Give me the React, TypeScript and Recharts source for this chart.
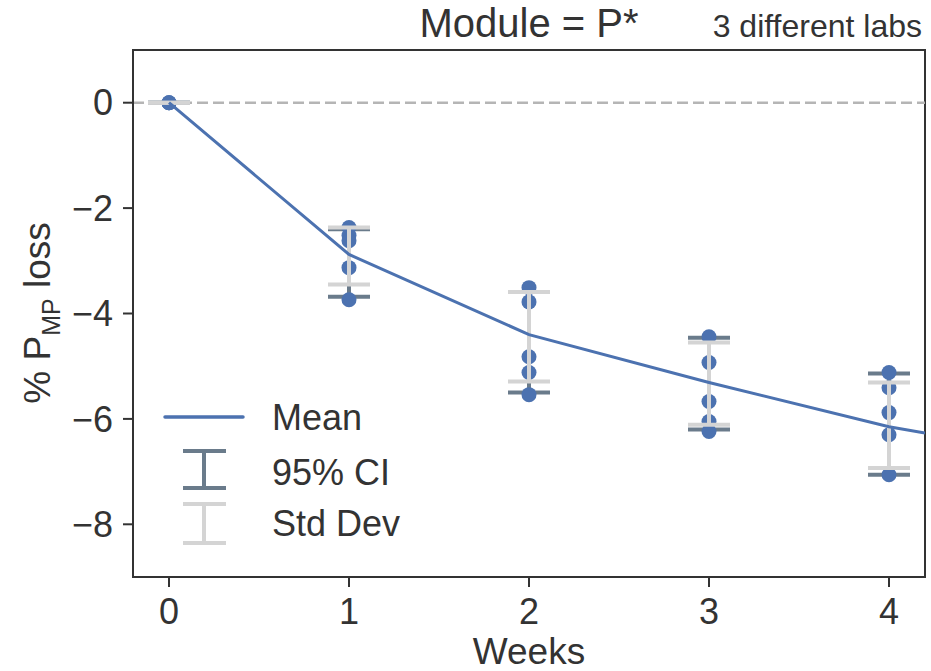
import React from 'react';
import {
  ComposedChart,
  Line,
  Scatter,
  XAxis,
  YAxis,
  ErrorBar,
  ReferenceLine,
  ReferenceArea,
  Legend,
  Label,
} from 'recharts';

// weeks where labs measured
const weeks = [0, 1, 2, 3, 4];

// individual lab measurements per week (% P_MP loss)
const obsByWeek = [
  [0, 0, 0],
  [-2.37, -2.52, -2.62, -3.13, -3.74],
  [-3.51, -3.78, -4.82, -5.12, -5.54],
  [-4.44, -4.93, -5.67, -6.05, -6.24],
  [-5.12, -5.41, -5.88, -6.3, -7.06],
];

// mean curve (runs to the right edge of the plot)
const meanX = [0, 1, 2, 3, 4, 4.2];
const meanY = [0, -2.88, -4.4, -5.31, -6.15, -6.27];

// 95% CI and std dev bounds per week
const ciLow = [0, -3.68, -5.5, -6.2, -7.06];
const ciHigh = [0, -2.4, -3.59, -4.46, -5.14];
const sdLow = [0, -3.45, -5.29, -6.11, -6.93];
const sdHigh = [0, -2.37, -3.59, -4.55, -5.31];

const xTicks = [0, 1, 2, 3, 4];
const yTicks = [0, -2, -4, -6, -8];

const FONT = '"Liberation Sans", Arial, Helvetica, sans-serif';
const BLUE = '#4C72B0';
const CI_COLOR = '#6a7b8b';
const SD_COLOR = '#d4d4d4';
const AXIS = '#333333';

const meanData = meanX.map((w, i) => ({ week: w, mean: meanY[i] }));

const barData = weeks.map((w, i) => {
  const c = meanY[i];
  return {
    week: w,
    center: c,
    ci: [c - ciLow[i], ciHigh[i] - c],
    sd: [c - sdLow[i], sdHigh[i] - c],
  };
});

const pointData = weeks.flatMap((w, i) => obsByWeek[i].map((v) => ({ week: w, value: v })));

const fmtY = (v: number) => (v < 0 ? `\u2212${Math.abs(v)}` : `${v}`);

const Dot = (props: any) => <circle cx={props.cx} cy={props.cy} r={7.5} fill={BLUE} />;
const NoShape = () => <g />;

const YLabel = () => (
  <text
    x={50}
    y={313}
    transform="rotate(-90, 50, 313)"
    textAnchor="middle"
    fontFamily={FONT}
    fontSize={37}
    fill={AXIS}
  >
    % P
    <tspan dy={10} fontSize={25}>MP</tspan>
    <tspan dy={-10}> loss</tspan>
  </text>
);

const XLabel = () => (
  <text x={529} y={664} textAnchor="middle" fontFamily={FONT} fontSize={37} fill={AXIS}>
    Weeks
  </text>
);

const LegendBox = () => (
  <svg width={290} height={165} style={{ display: 'block' }}>
    <line x1={15} x2={93} y1={27} y2={27} stroke={BLUE} strokeWidth={3.5} strokeLinecap="round" />
    <text x={122} y={27} dominantBaseline="central" fontFamily={FONT} fontSize={36} fill={AXIS}>
      Mean
    </text>
    <g stroke={CI_COLOR} strokeWidth={4}>
      <line x1={54} x2={54} y1={61} y2={98} />
      <line x1={33} x2={76} y1={61} y2={61} />
      <line x1={33} x2={76} y1={98} y2={98} />
    </g>
    <text x={122} y={82} dominantBaseline="central" fontFamily={FONT} fontSize={36} fill={AXIS}>
      95% CI
    </text>
    <g stroke={SD_COLOR} strokeWidth={4}>
      <line x1={54} x2={54} y1={114} y2={153} />
      <line x1={33} x2={76} y1={114} y2={114} />
      <line x1={33} x2={76} y1={153} y2={153} />
    </g>
    <text x={122} y={133} dominantBaseline="central" fontFamily={FONT} fontSize={36} fill={AXIS}>
      Std Dev
    </text>
  </svg>
);

export default function App() {
  return (
    <div style={{ position: 'absolute', left: 0, top: 0, width: 931, height: 671, background: '#fff', fontFamily: FONT }}>
      <div
        style={{
          position: 'absolute',
          left: 0,
          width: 1058,
          top: 3,
          fontSize: 40,
          lineHeight: '40px',
          textAlign: 'center',
          color: AXIS,
          whiteSpace: 'nowrap',
        }}
      >
        Module = P*
      </div>
      <div
        style={{
          position: 'absolute',
          right: 9,
          top: 10,
          fontSize: 32,
          lineHeight: '32px',
          color: AXIS,
          whiteSpace: 'nowrap',
        }}
      >
        3 different labs
      </div>
      <ComposedChart
        width={931}
        height={671}
        margin={{ top: 50, right: 6, bottom: 0, left: 0 }}
        style={{ position: 'absolute', left: 0, top: 0 }}
      >
        <XAxis
          type="number"
          dataKey="week"
          domain={[-0.2, 4.2]}
          ticks={xTicks}
          allowDataOverflow
          height={94}
          tickSize={10}
          tickMargin={11}
          stroke={AXIS}
          strokeWidth={2}
          tick={{ fill: AXIS, fontSize: 36, fontFamily: FONT }}
        >
          <Label content={<XLabel />} />
        </XAxis>
        <YAxis
          type="number"
          domain={[-9, 1]}
          ticks={yTicks}
          allowDataOverflow
          width={133}
          tickSize={10}
          tickMargin={10}
          tickFormatter={fmtY}
          stroke={AXIS}
          strokeWidth={2}
          tick={{ fill: AXIS, fontSize: 36, fontFamily: FONT }}
        >
          <Label content={<YLabel />} />
        </YAxis>
        <ReferenceArea x1={-0.2} x2={4.2} y1={-9} y2={1} fill="none" stroke={AXIS} strokeWidth={2} />
        <ReferenceLine y={0} stroke="#b5b5b5" strokeWidth={2.5} strokeDasharray="11 5" />
        <Scatter data={barData} dataKey="center" shape={<NoShape />} legendType="none" isAnimationActive={false}>
          <ErrorBar dataKey="ci" direction="y" width={21} stroke={CI_COLOR} strokeWidth={4} isAnimationActive={false} />
        </Scatter>
        <Scatter data={pointData} dataKey="value" shape={<Dot />} isAnimationActive={false} />
        <Scatter data={barData} dataKey="center" shape={<NoShape />} legendType="none" isAnimationActive={false}>
          <ErrorBar
            dataKey="sd"
            direction="y"
            width={21}
            stroke={SD_COLOR}
            strokeWidth={4}
            zIndex={700}
            isAnimationActive={false}
          />
        </Scatter>
        <Line
          data={meanData}
          dataKey="mean"
          type="linear"
          stroke={BLUE}
          strokeWidth={3}
          dot={false}
          activeDot={false}
          zIndex={800}
          isAnimationActive={false}
        />
        <Legend
          layout="horizontal"
          verticalAlign="middle"
          align="center"
          content={<LegendBox />}
          wrapperStyle={{ left: 150, top: 390, width: 290, height: 165 }}
        />
      </ComposedChart>
    </div>
  );
}
